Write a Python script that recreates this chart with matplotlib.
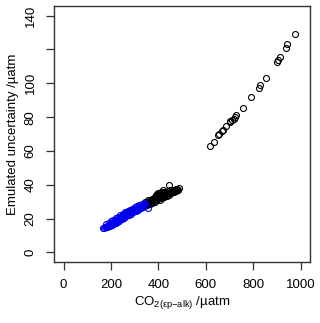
import matplotlib
matplotlib.use("Agg")
import matplotlib.pyplot as plt

plt.rcParams['font.family'] = ['Liberation Sans', 'DejaVu Sans']
plt.rcParams['mathtext.fontset'] = 'custom'
plt.rcParams['mathtext.rm'] = 'Liberation Sans'
plt.rcParams['mathtext.it'] = 'Liberation Sans:italic'

# sparse high values (black)
hi_x = [617, 635, 651, 655, 669, 673, 687, 701, 704, 711, 718, 725, 729, 755,
        792, 823, 827, 853, 900, 904, 912, 940, 944, 975]
hi_y = [63.2, 65.5, 69.5, 70.1, 71.7, 72.4, 74.8, 77.1, 77.8, 78.4, 79.0, 80.3,
        81.5, 85.1, 91.6, 97.5, 98.9, 102.9, 112.7, 113.9, 115.5, 120.6, 123.4, 128.9]

# dense black cluster
blk_x = [340, 345, 350, 355, 360, 365, 370, 375, 380, 385, 390, 395, 400, 405,
         410, 415, 420, 425, 430, 435, 440, 445, 450, 455, 460, 465, 470, 475,
         480, 485, 483, 478,
         370, 380, 390, 400, 410, 420, 430, 440, 450, 385, 395, 405, 415, 425,
         360, 350, 365, 375, 385, 395, 405, 415, 425, 435, 445, 455, 465, 475,
         345, 358, 375, 390, 400, 410, 420, 445, 395]
blk_y = [27.5, 28.0, 28.3, 28.8, 29.0, 29.5, 29.8, 30.2, 30.5, 31.0, 31.3, 31.6,
         32.0, 32.4, 32.7, 33.1, 33.5, 33.8, 34.2, 34.6, 35.0, 35.3, 35.7, 36.0,
         36.4, 36.7, 37.1, 37.4, 37.8, 38.0, 37.2, 36.8,
         31.0, 32.0, 33.0, 33.8, 34.6, 35.3, 36.0, 36.6, 36.9, 32.5, 33.3, 34.1,
         35.0, 35.6,
         30.5, 29.5, 28.5, 29.2, 30.0, 30.8, 31.3, 32.0, 32.8, 33.5, 34.2, 35.0,
         35.8, 36.5,
         30.0, 31.0, 31.8, 34.0, 35.2, 35.8, 37.0, 40.0, 34.8]

# blue cluster
blu_x = [165, 170, 175, 178, 182, 185, 188, 190, 193, 196, 198, 200, 203, 205,
         207, 210, 212, 214, 216, 218, 220, 222, 224, 226, 228, 230, 232, 234,
         236, 238, 240, 242, 244, 246, 248, 250, 252, 254, 256, 258, 260, 262,
         264, 266, 268, 270, 272, 274, 276, 278, 280, 283, 286, 289, 292, 295,
         298, 301, 304, 307, 310, 313, 316, 319, 322, 325, 328, 331, 334, 337,
         340, 344, 358,
         210, 230, 250, 270, 290, 260, 240, 220, 300,
         180, 190, 200, 210, 220, 230, 240, 250, 260, 270, 280, 290, 300, 310,
         320, 330,
         185, 195, 205, 215, 225, 235, 245, 255, 265, 275, 285, 295, 305, 315,
         325, 335]
blu_y = [14.6, 14.4, 14.9, 15.3, 15.1, 15.8, 15.6, 16.2, 16.0, 16.6, 16.3, 17.0,
         16.8, 17.4, 17.1, 17.8, 17.5, 18.2, 17.9, 18.6, 18.3, 19.0, 18.7, 19.4,
         19.1, 19.8, 19.5, 20.2, 19.9, 20.6, 20.3, 21.0, 20.7, 21.4, 21.1, 21.8,
         21.5, 22.2, 21.9, 22.6, 23.2, 22.8, 23.4, 23.0, 23.6, 23.3, 23.9, 23.5,
         24.1, 23.8, 24.4, 24.0, 24.7, 24.3, 25.0, 24.7, 25.4, 25.1, 25.8, 25.5,
         26.2, 25.9, 26.6, 26.3, 27.0, 26.7, 27.4, 27.2, 27.9, 28.3, 28.8, 29.2,
         26.3,
         16.9, 18.9, 20.9, 22.6, 24.0, 21.3, 19.6, 17.6, 24.6,
         16.9, 17.7, 18.6, 19.4, 20.3, 21.1, 22.0, 22.8, 24.0, 24.4, 25.2, 25.9,
         26.6, 27.4, 28.1, 28.9,
         15.0, 15.7, 16.5, 17.3, 18.1, 18.9, 19.7, 20.5, 21.4, 22.2, 23.0, 23.8,
         24.6, 25.4, 26.2, 27.0]

fig = plt.figure(figsize=(3.2, 3.23), dpi=100)
ax = fig.add_axes([0.169, 0.189, 0.8, 0.792])

mk = dict(marker='o', linestyle='none', markersize=4.3, markeredgewidth=0.8,
          markerfacecolor='none')
ax.plot(hi_x, hi_y, markeredgecolor='black', **mk)
ax.plot(blk_x, blk_y, markeredgecolor='black', **mk)
ax.plot(blu_x, blu_y, markeredgecolor='#0000ee', **mk)

ax.set_xlim(-40, 1040)
ax.set_ylim(-5.6, 145.6)
ax.set_xticks([0, 200, 400, 600, 800, 1000])
ax.set_yticks([0, 20, 40, 60, 80, 100, 120, 140])
ax.set_yticklabels(['0', '20', '40', '60', '80', '100', '', '140'],
                   rotation=90, va='center')

for s in ax.spines.values():
    s.set_color('#333333')
    s.set_linewidth(1.0)
ax.tick_params(direction='out', length=5.5, width=0.9, color='#333333',
               labelsize=9.5, pad=7)

ax.set_xlabel('CO$_{\\mathregular{2(εp{\u2212}alk)}}$ /µatm', fontsize=9.5, labelpad=2)
ax.set_ylabel('Emulated uncertainty /µatm', fontsize=9.5, labelpad=4)

fig.savefig('out.png', dpi=100)
